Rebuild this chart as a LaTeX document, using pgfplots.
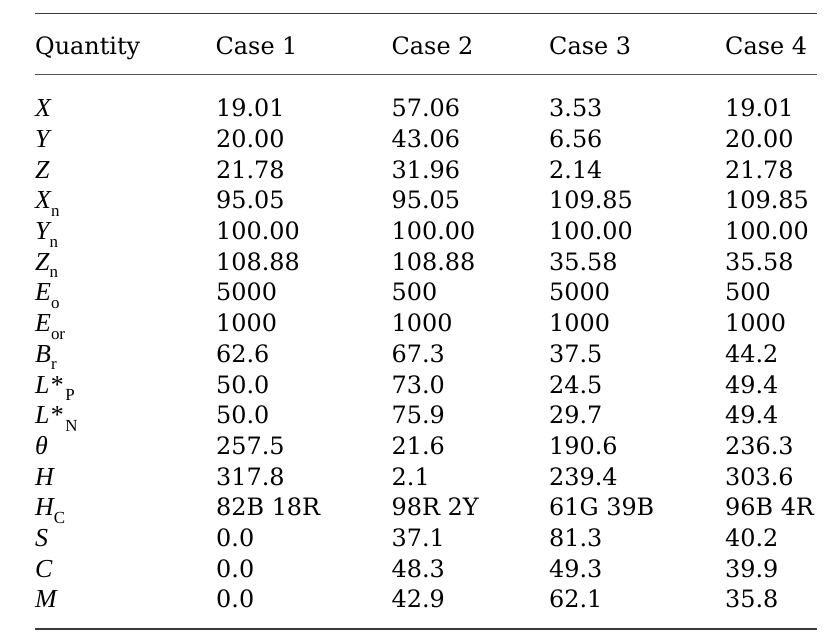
\documentclass[border=0pt]{standalone}
\usepackage{pgfplots}
\pgfplotsset{compat=1.18}
\usepackage{fontspec}
\setmainfont{DejaVu Serif}
\newfontfamily\symf{Liberation Serif}
\DeclareRobustCommand\sym[1]{{\symf\itshape\fontsize{26}{26}\selectfont #1}}
\DeclareRobustCommand\sub[1]{\raisebox{-7.5bp}{\symf\fontsize{17}{17}\selectfont #1}}
\definecolor{rule}{HTML}{3C3C3C}
\pgfplotsset{txt/.style={
    only marks, mark=*, mark size=0pt,
    nodes near coords, point meta=explicit symbolic,
    every node near coord/.append style={anchor=base west, inner sep=0pt, text=black,
      font=\fontsize{24}{24}\selectfont},
  }}
\begin{document}
\begin{tikzpicture}
\begin{axis}[
  width=836bp, height=644bp, scale only axis,
  xmin=0, xmax=836, ymin=0, ymax=644, y dir=reverse,
  hide axis, clip=false,
]
% rules
\addplot[draw=rule, line width=1.3bp, mark=none] coordinates {(35,13.5) (816.5,13.5)};
\addplot[draw=rule!90!white, line width=1.8bp, mark=none] coordinates {(35,74.5) (816.5,74.5)};
\addplot[draw=rule, line width=1.3bp, mark=none] coordinates {(35,629) (816.5,629)};
% header
\addplot[txt] coordinates {(35,55)[Quantity] (215.5,55)[Case 1] (391.5,55)[Case 2] (549,55)[Case 3] (725,55)[Case 4]};
% quantity column
\addplot[txt] coordinates {
(35,116.7)[\sym{X}]
(35,147.4)[\sym{Y}]
(35,178.1)[\sym{Z}]
(35,208.8)[\sym{X}\sub{n}]
(35,239.5)[\sym{Y}\sub{n}]
(35,270.2)[\sym{Z}\sub{n}]
(35,300.9)[\sym{E}\sub{o}]
(35,331.6)[\sym{E}\sub{or}]
(35,362.3)[\sym{B}\sub{r}]
(35,393.0)[\sym{L*}\sub{\,P}]
(35,423.7)[\sym{L*}\sub{\,N}]
(35,454.4)[\sym{θ}]
(35,485.1)[\sym{H}]
(35,515.8)[\sym{H}\sub{C}]
(35,546.5)[\sym{S}]
(35,577.2)[\sym{C}]
(35,607.9)[\sym{M}]
};
% Case 1
\addplot[txt] coordinates {
(216,116.7)[19.01] (216,147.4)[20.00] (216,178.1)[21.78] (216,208.8)[95.05]
(216,239.5)[100.00] (216,270.2)[108.88] (216,300.9)[5000] (216,331.6)[1000]
(216,362.3)[62.6] (216,393.0)[50.0] (216,423.7)[50.0] (216,454.4)[257.5]
(216,485.1)[317.8] (216,515.8)[82B 18R] (216,546.5)[0.0] (216,577.2)[0.0] (216,607.9)[0.0]
};
% Case 2
\addplot[txt] coordinates {
(391.5,116.7)[57.06] (391.5,147.4)[43.06] (391.5,178.1)[31.96] (391.5,208.8)[95.05]
(391.5,239.5)[100.00] (391.5,270.2)[108.88] (391.5,300.9)[500] (391.5,331.6)[1000]
(391.5,362.3)[67.3] (391.5,393.0)[73.0] (391.5,423.7)[75.9] (391.5,454.4)[21.6]
(391.5,485.1)[2.1] (391.5,515.8)[98R 2Y] (391.5,546.5)[37.1] (391.5,577.2)[48.3] (391.5,607.9)[42.9]
};
% Case 3
\addplot[txt] coordinates {
(549,116.7)[3.53] (549,147.4)[6.56] (549,178.1)[2.14] (549,208.8)[109.85]
(549,239.5)[100.00] (549,270.2)[35.58] (549,300.9)[5000] (549,331.6)[1000]
(549,362.3)[37.5] (549,393.0)[24.5] (549,423.7)[29.7] (549,454.4)[190.6]
(549,485.1)[239.4] (549,515.8)[61G 39B] (549,546.5)[81.3] (549,577.2)[49.3] (549,607.9)[62.1]
};
% Case 4
\addplot[txt] coordinates {
(725,116.7)[19.01] (725,147.4)[20.00] (725,178.1)[21.78] (725,208.8)[109.85]
(725,239.5)[100.00] (725,270.2)[35.58] (725,300.9)[500] (725,331.6)[1000]
(725,362.3)[44.2] (725,393.0)[49.4] (725,423.7)[49.4] (725,454.4)[236.3]
(725,485.1)[303.6] (725,515.8)[96B 4R] (725,546.5)[40.2] (725,577.2)[39.9] (725,607.9)[35.8]
};
\end{axis}
\pgfresetboundingbox
\path[use as bounding box] (current axis.south west) rectangle (current axis.north east);
\end{tikzpicture}
\end{document}
